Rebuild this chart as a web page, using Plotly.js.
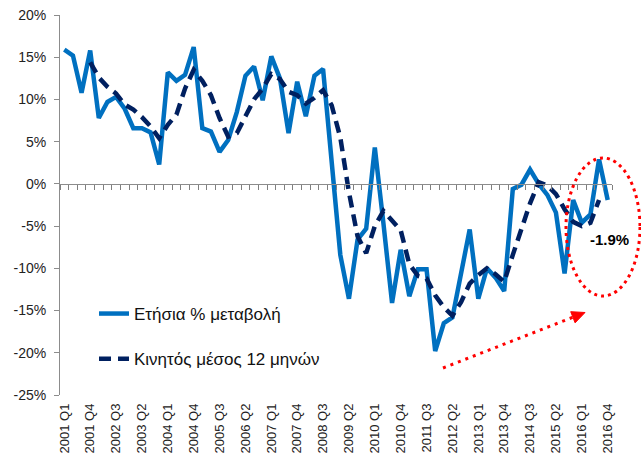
<!DOCTYPE html>
<html>
<head>
<meta charset="utf-8">
<script src="https://cdn.plot.ly/plotly-3.0.1.min.js"></script>
<style>html,body{margin:0;padding:0;background:#fff;}#chart{width:641px;height:474px;}</style>
</head>
<body>
<div id="chart"></div>
<script>
const categories = [
"2001 Q1","2001 Q2","2001 Q3","2001 Q4","2002 Q1","2002 Q2","2002 Q3","2002 Q4",
"2003 Q1","2003 Q2","2003 Q3","2003 Q4","2004 Q1","2004 Q2","2004 Q3","2004 Q4",
"2005 Q1","2005 Q2","2005 Q3","2005 Q4","2006 Q1","2006 Q2","2006 Q3","2006 Q4",
"2007 Q1","2007 Q2","2007 Q3","2007 Q4","2008 Q1","2008 Q2","2008 Q3","2008 Q4",
"2009 Q1","2009 Q2","2009 Q3","2009 Q4","2010 Q1","2010 Q2","2010 Q3","2010 Q4",
"2011 Q1","2011 Q2","2011 Q3","2011 Q4","2012 Q1","2012 Q2","2012 Q3","2012 Q4",
"2013 Q1","2013 Q2","2013 Q3","2013 Q4","2014 Q1","2014 Q2","2014 Q3","2014 Q4",
"2015 Q1","2015 Q2","2015 Q3","2015 Q4","2016 Q1","2016 Q2","2016 Q3","2016 Q4"];

// Ετήσια % μεταβολή
const annualChange = [
15.9,15.2,10.8,15.8,7.8,9.7,10.3,8.9,
6.6,6.6,6.1,2.3,13.2,12.2,12.9,16.2,
6.6,6.2,3.8,5.2,8.5,12.8,13.9,9.9,
15.1,12.5,6.0,12.1,8.0,12.8,13.6,2.5,
-8.4,-13.6,-6.6,-5.3,4.3,-4.7,-14.1,-7.8,
-13.3,-10.1,-10.1,-19.8,-16.5,-15.8,-10.8,-5.4,
-13.6,-10.0,-11.1,-12.7,-0.6,-0.1,1.7,0.0,
-1.3,-3.4,-10.6,-1.9,-4.6,-3.6,2.9,-1.9];

// Κινητός μέσος 12 μηνών
const movingAvg = [
null,null,null,14.4,12.6,11.5,10.7,9.4,
8.8,7.9,6.8,5.4,7.0,8.2,11.3,13.5,
12.2,10.5,7.8,5.6,6.0,8.0,10.0,11.3,
13.0,12.4,10.9,10.5,9.5,10.2,11.1,9.3,
5.5,-1.0,-6.2,-8.2,-5.0,-3.2,-4.3,-5.5,
-9.5,-10.9,-11.2,-13.2,-14.6,-15.6,-14.0,-11.8,
-10.8,-10.0,-10.7,-11.6,-8.4,-5.3,-2.3,0.2,
-0.2,-1.2,-3.0,-4.5,-5.0,-4.6,-1.9,null];

const yTickVals = [20,15,10,5,0,-5,-10,-15,-20,-25];
const yTickText = ["20%","15%","10%","5%","0%","-5%","-10%","-15%","-20%","-25%"];
const xTickLabels = categories.filter((c,i)=> i%3===0);
const seriesNames = ["Ετήσια % μεταβολή","Κινητός μέσος 12 μηνών"];
const lastLabel = "-1.9%";

const FONT = "Liberation Sans, Arial, sans-serif";
const W=641,H=474,L=60,R=29,T=15,B=79;
const pw=W-L-R, ph=H-T-B;
const px=(x)=>(x-L)/pw;
const py=(y)=>(H-B-y)/ph;

const traces = [
 {x:categories,y:annualChange,type:'scatter',mode:'lines',name:seriesNames[0],
  line:{color:'#0070C0',width:4.5},legendgroup:'a',xaxis:'x',yaxis:'y'},
 {x:categories,y:movingAvg,type:'scatter',mode:'lines',name:seriesNames[1],
  line:{color:'#002060',width:4.5,dash:'12px,7px'},legendgroup:'b',xaxis:'x2',yaxis:'y',connectgaps:false}
];

// arrow head geometry (pixel)
const tip=[585,312.5], dir=[0.930,-0.366], perp=[0.366,0.930], hl=13, hw=6;
const bc=[tip[0]-hl*dir[0], tip[1]-hl*dir[1]];
const p1=[bc[0]+hw*perp[0], bc[1]+hw*perp[1]], p2=[bc[0]-hw*perp[0], bc[1]-hw*perp[1]];

const layout = {
 width:W,height:H,
 margin:{l:L,r:R,t:T,b:B,pad:0},
 paper_bgcolor:'#fff',plot_bgcolor:'#fff',
 font:{family:FONT,color:'#222',size:14},
 showlegend:true,
 legend:{x:px(94),y:py(296),xanchor:'left',yanchor:'top',bgcolor:'rgba(0,0,0,0)',
   font:{family:FONT,size:17,color:'#111'},traceorder:'grouped',tracegroupgap:20,itemwidth:30},
 xaxis:{type:'category',categoryorder:'array',categoryarray:categories,range:[-0.5,63.5],
   showline:false,ticks:'',showgrid:false,zeroline:false,
   tickmode:'array',tickvals:xTickLabels,ticktext:xTickLabels,tickangle:-90,
   tickfont:{family:FONT,size:13,color:'#222'},ticklabelstandoff:5},
 xaxis2:{type:'category',categoryorder:'array',categoryarray:categories,range:[-0.5,63.5],
   overlaying:'x',anchor:'free',position:25/45,side:'bottom',
   showline:true,linecolor:'#8c8c8c',linewidth:1,ticks:'outside',ticklen:5,tickwidth:1,tickcolor:'#7f7f7f',
   tickson:'boundaries',tickmode:'array',tickvals:categories,ticktext:categories.map(()=>''),
   showticklabels:false,showgrid:false,zeroline:false},
 yaxis:{range:[-25,20],tickmode:'array',tickvals:yTickVals,ticktext:yTickText,
   showline:true,linecolor:'#8c8c8c',linewidth:1,ticks:'outside',ticklen:5,tickcolor:'#8c8c8c',
   showgrid:false,zeroline:false,tickfont:{family:FONT,size:14,color:'#222'},ticklabelstandoff:5},
 shapes:[
  {type:'circle',xref:'paper',yref:'paper',x0:px(566),x1:px(640),y0:py(296),y1:py(158),
   line:{color:'#FF0000',width:3,dash:'3px,4px'},fillcolor:'rgba(0,0,0,0)'},
  {type:'line',xref:'paper',yref:'paper',x0:px(443),y0:py(368),x1:px(bc[0]),y1:py(bc[1]),
   line:{color:'#FF0000',width:3,dash:'3px,5px'}},
  {type:'path',xref:'paper',yref:'paper',
   path:`M ${px(tip[0])} ${py(tip[1])} L ${px(p1[0])} ${py(p1[1])} L ${px(p2[0])} ${py(p2[1])} Z`,
   fillcolor:'#FF0000',line:{color:'#FF0000',width:1}}
 ],
 annotations:[
  {xref:'paper',yref:'paper',x:px(609),y:py(240),text:lastLabel,showarrow:false,
   font:{family:FONT,size:15,color:'#000',weight:'bold'},xanchor:'center',yanchor:'middle'}
 ]
};
Plotly.newPlot('chart',traces,layout,{displayModeBar:false,staticPlot:true});
</script>
</body>
</html>
